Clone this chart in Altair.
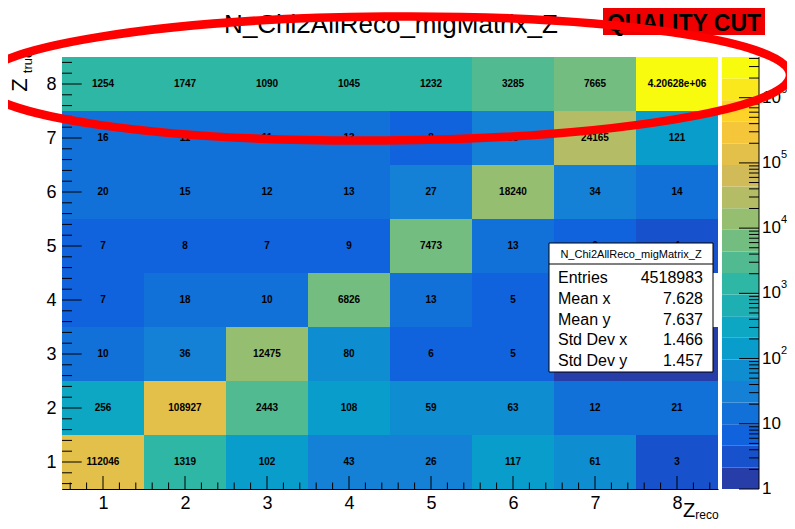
import math
import altair as alt
import pandas as pd

# ---------------- data ----------------
z_reco_bins = [1, 2, 3, 4, 5, 6, 7, 8]
z_true_bins = [1, 2, 3, 4, 5, 6, 7, 8]
counts_true_1 = [112046, 1319, 102, 43, 26, 117, 61, 3]
counts_true_2 = [256, 108927, 2443, 108, 59, 63, 12, 21]
counts_true_3 = [10, 36, 12475, 80, 6, 5, 2, 1]
counts_true_4 = [7, 18, 10, 6826, 13, 5, 3, 0]
counts_true_5 = [7, 8, 7, 9, 7473, 13, 6, 4]
counts_true_6 = [20, 15, 12, 13, 27, 18240, 34, 14]
counts_true_7 = [16, 11, 11, 13, 8, 35, 24165, 121]
counts_true_8 = [1254, 1747, 1090, 1045, 1232, 3285, 7665, 4206280]
rows = [counts_true_1, counts_true_2, counts_true_3, counts_true_4,
        counts_true_5, counts_true_6, counts_true_7, counts_true_8]

colorbar_decades = [1, 10, 100, 1000, 10000, 100000, 1000000]
colorbar_bases = ["1", "10", "10", "10", "10", "10", "10"]
colorbar_exponents = ["", "", "2", "3", "4", "5", "6"]
stats_names = ["Entries", "Mean x", "Mean y", "Std Dev x", "Std Dev y"]
stats_values = ["4518983", "7.628", "7.637", "1.466", "1.457"]
hist_name = "N_Chi2AllReco_migMatrix_Z"

# ---------------- palette (ROOT kBird, 20 contours) ----------------
stops = [0.0, 0.125, 0.25, 0.375, 0.5, 0.625, 0.75, 0.875, 1.0]
red = [0.2082, 0.0592, 0.0780, 0.0232, 0.1802, 0.5301, 0.8186, 0.9956, 0.9764]
green = [0.1664, 0.3599, 0.5041, 0.6419, 0.7178, 0.7492, 0.7328, 0.7862, 0.9832]
blue = [0.5293, 0.8684, 0.8385, 0.7914, 0.6425, 0.4662, 0.3499, 0.1968, 0.0539]


def bird(t):
    for s in range(8):
        if t <= stops[s + 1]:
            f = (t - stops[s]) / (stops[s + 1] - stops[s])
            r = red[s] + f * (red[s + 1] - red[s])
            g = green[s] + f * (green[s + 1] - green[s])
            b = blue[s] + f * (blue[s + 1] - blue[s])
            return "#%02x%02x%02x" % (round(r * 255), round(g * 255), round(b * 255))
    return "#f9fb0e"


ncont = 20
band_colors = [bird(int((i + 0.99) * 255 / ncont) / 254) for i in range(ncont)]
zmax = max(max(r) for r in rows)
lz = math.log10(zmax)
step = lz / ncont
thresholds = [10 ** (step * k) for k in range(1, ncont)]
color_scale = alt.Scale(type="threshold", domain=thresholds, range=band_colors)

# ---------------- tables ----------------
cell_records = []
for t, row in zip(z_true_bins, rows):
    for r, v in zip(z_reco_bins, row):
        if v > 0:
            cell_records.append(dict(reco=r, true=t, x_lo=r - 0.5, x_hi=r + 0.5,
                                     y_lo=t - 0.5, y_hi=t + 0.5, count=v,
                                     label=f"{v:g}"))
cells = pd.DataFrame(cell_records)

major_pos = pd.DataFrame({"p": z_reco_bins})
minor_pos = pd.DataFrame({"p": [b + d for b in z_reco_bins for d in (-0.4, -0.2, 0.2, 0.4)]})

cb = pd.DataFrame({
    "lo": [10 ** (step * k) for k in range(ncont)],
    "hi": [10 ** (step * (k + 1)) for k in range(ncont)],
})
cb["mid"] = (cb["lo"] * cb["hi"]) ** 0.5
cb_major = pd.DataFrame({"v": colorbar_decades, "base": colorbar_bases, "exp": colorbar_exponents})
cb_minor = pd.DataFrame({"v": [m * d for d in colorbar_decades for m in range(2, 10) if m * d <= zmax]})

one = pd.DataFrame({"a": [0]})

W, H = 656, 432
FONT = "Liberation Sans"

xs = alt.Scale(domain=[0.5, 8.5], nice=False, zero=False)
ys = alt.Scale(domain=[0.5, 8.5], nice=False, zero=False)
ax_common = dict(title=None, grid=False, ticks=False, labelFontSize=18, labelFont=FONT,
                 labelColor="black", domainColor="black", domainWidth=1, format="d")

rects = alt.Chart(cells).mark_rect().encode(
    x=alt.X("x_lo:Q", scale=xs, axis=alt.Axis(values=z_reco_bins, labelPadding=5, **ax_common)),
    x2="x_hi:Q",
    y=alt.Y("y_lo:Q", scale=ys, axis=alt.Axis(values=z_true_bins, labelPadding=6, **ax_common)),
    y2="y_hi:Q",
    color=alt.Color("count:Q", scale=color_scale, legend=None),
)
texts = alt.Chart(cells).mark_text(font=FONT, fontSize=10, fontWeight="bold", color="black").encode(
    x=alt.X("reco:Q", scale=xs), y=alt.Y("true:Q", scale=ys), text="label:N")

xt_major = alt.Chart(major_pos).mark_rule(color="black").encode(
    x=alt.X("p:Q", scale=xs), y=alt.value(H), y2=alt.value(H - 13))
xt_minor = alt.Chart(minor_pos).mark_rule(color="black").encode(
    x=alt.X("p:Q", scale=xs), y=alt.value(H), y2=alt.value(H - 6.5))
yt_major = alt.Chart(major_pos).mark_rule(color="black").encode(
    y=alt.Y("p:Q", scale=ys), x=alt.value(0), x2=alt.value(19.7))
yt_minor = alt.Chart(minor_pos).mark_rule(color="black").encode(
    y=alt.Y("p:Q", scale=ys), x=alt.value(0), x2=alt.value(10))

# axis titles
zt_Z = alt.Chart(one).mark_text(text="Z", font=FONT, fontSize=22, angle=270,
                                align="center", baseline="middle", color="black").encode(
    x=alt.value(-42), y=alt.value(28))
zt_sub = alt.Chart(one).mark_text(text="true", font=FONT, fontSize=13, angle=270,
                                  align="center", baseline="middle", color="black").encode(
    x=alt.value(-34), y=alt.value(5))
zr_Z = alt.Chart(one).mark_text(text="Z", font=FONT, fontSize=20, align="center",
                                baseline="middle", color="black").encode(
    x=alt.value(627), y=alt.value(454))
zr_sub = alt.Chart(one).mark_text(text="reco", font=FONT, fontSize=12, align="center",
                                  baseline="middle", color="black").encode(
    x=alt.value(645), y=alt.value(458))

# stats box
sbox = alt.Chart(one).mark_rect(fill="white", stroke="black", strokeWidth=1).encode(
    x=alt.value(487), x2=alt.value(651), y=alt.value(186), y2=alt.value(315))
sline = alt.Chart(one).mark_rule(color="black").encode(
    x=alt.value(487), x2=alt.value(651), y=alt.value(207))
shead = alt.Chart(one).mark_text(text=hist_name, font=FONT, fontSize=11, align="center",
                                 baseline="alphabetic", color="black").encode(
    x=alt.value(569), y=alt.value(201))
snames = alt.Chart(one).mark_text(text=stats_names, font=FONT, fontSize=16, align="left",
                                  baseline="alphabetic", lineHeight=20.8, color="black").encode(
    x=alt.value(496), y=alt.value(226))
svals = alt.Chart(one).mark_text(text=stats_values, font=FONT, fontSize=16, align="right",
                                 baseline="alphabetic", lineHeight=20.8, color="black").encode(
    x=alt.value(641), y=alt.value(226))

# title & annotations
title = alt.Chart(one).mark_text(text=hist_name, font=FONT, fontSize=26, align="center",
                                 baseline="alphabetic", color="black").encode(
    x=alt.value(329), y=alt.value(-24))
qbox = alt.Chart(one).mark_rect(fill="#ee0000").encode(
    x=alt.value(541), x2=alt.value(703), y=alt.value(-50), y2=alt.value(-22))
qtext = alt.Chart(one).mark_text(text="QUALITY CUT", font=FONT, fontSize=23, fontWeight="bold",
                                 align="center", baseline="alphabetic", color="black").encode(
    x=alt.value(622), y=alt.value(-26))

# hand-drawn red ellipse annotation (semi-axes 405 x 62 px, slight tilt)
k = 0.5523
b = 62 / 405
ell_path = (f"M -1 0 C -1 {-k*b:.4f} {-k:.4f} {-b:.4f} 0 {-b:.4f} C {k:.4f} {-b:.4f} 1 {-k*b:.4f} 1 0 "
            f"C 1 {k*b:.4f} {k:.4f} {b:.4f} 0 {b:.4f} C {-k:.4f} {b:.4f} -1 {k*b:.4f} -1 0 Z")
ellipse = alt.Chart(one).mark_point(shape=ell_path, size=810 ** 2, filled=False,
                                    stroke="#ff0000", strokeWidth=8.5, opacity=1,
                                    angle=359.5).encode(
    x=alt.value(323), y=alt.value(21.5))

main = alt.layer(rects, texts, xt_major, xt_minor, yt_major, yt_minor,
                 zt_Z, zt_sub, zr_Z, zr_sub, sbox, sline, shead, snames, svals,
                 title, qbox, qtext)

# colorbar
cbs = alt.Scale(type="log", domain=[1, zmax], nice=False)
cb_rects = alt.Chart(cb).mark_rect().encode(
    x=alt.value(660), x2=alt.value(697),
    y=alt.Y("lo:Q", scale=cbs, axis=None),
    y2="hi:Q",
    color=alt.Color("mid:Q", scale=color_scale, legend=None),
)
cb_tmaj = alt.Chart(cb_major).mark_rule(color="black").encode(
    y=alt.Y("v:Q", scale=cbs), x=alt.value(677), x2=alt.value(697))
cb_tmin = alt.Chart(cb_minor).mark_rule(color="black").encode(
    y=alt.Y("v:Q", scale=cbs), x=alt.value(687), x2=alt.value(697))
cb_edge = alt.Chart(one).mark_rule(color="black").encode(
    x=alt.value(697), y=alt.value(0), y2=alt.value(H))
cb_base = alt.Chart(cb_major).mark_text(font=FONT, fontSize=17, align="left",
                                        baseline="middle", color="black").encode(
    y=alt.Y("v:Q", scale=cbs), x=alt.value(700), text="base:N")
cb_exp = alt.Chart(cb_major).mark_text(font=FONT, fontSize=11, align="left",
                                       baseline="middle", color="black", dx=19, dy=-8).encode(
    y=alt.Y("v:Q", scale=cbs), x=alt.value(700), text="exp:N")
colorbar = alt.layer(cb_rects, cb_tmaj, cb_tmin, cb_edge, cb_base, cb_exp)

chart = alt.layer(main, colorbar, ellipse).resolve_scale(y="independent").properties(
    width=W, height=H,
    autosize=alt.AutoSizeParams(type="none"),
    padding={"left": 54, "top": 49, "right": 69, "bottom": 32},
).configure_view(stroke=None)

chart.save("out.html", embed_options={"renderer": "svg", "actions": False})
